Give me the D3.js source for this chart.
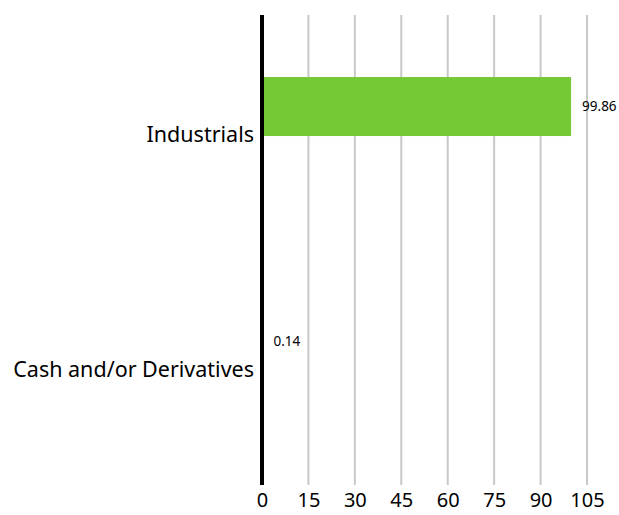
<!DOCTYPE html>
<html>
<head>
<meta charset="utf-8">
<script src="https://cdn.jsdelivr.net/npm/d3@7"></script>
<style>
  body { margin: 0; background: #fff; }
  text { font-family: "Noto Sans", sans-serif; }
</style>
</head>
<body>
<svg id="chart"></svg>
<script>
(function() {
    // data
    var categories = ["Industrials", "Cash and/or Derivatives"];
    var values = [99.86, 0.14];
    var xTicks = [0, 15, 30, 45, 60, 75, 90, 105];

    var W = 619, H = 515;
    var margin = {top: 15, right: 32, bottom: 30, left: 262},
        width = W - margin.left - margin.right,
        height = H - margin.top - margin.bottom;

    var svg = d3.select("#chart")
        .attr("width", W)
        .attr("height", H)
        .append("g")
        .attr("transform", "translate(" + margin.left + "," + margin.top + ")");

    var x = d3.scaleLinear().domain([0, 105]).range([0, width]);
    var y = d3.scaleBand().domain(categories).range([0, height]);

    // gridlines
    svg.selectAll(".grid")
        .data(xTicks.slice(1))
        .enter()
        .append("line")
        .attr("x1", (d) => x(d))
        .attr("x2", (d) => x(d))
        .attr("y1", 0)
        .attr("y2", height)
        .attr("stroke", "#c8c8c8")
        .attr("stroke-width", 2);

    // x tick labels
    var xAxis = svg.append("g")
        .attr("transform", "translate(0," + height + ")")
        .call(d3.axisBottom(x).tickValues(xTicks).tickSize(0).tickPadding(8));
    xAxis.select(".domain").remove();
    xAxis.selectAll("text")
        .style("font-size", "20px")
        .attr("fill", "#000");

    // bars
    var barOffset = y.bandwidth() * 0.264,
        barHeight = y.bandwidth() * 0.251;
    svg.selectAll("rect")
        .data(values)
        .enter()
        .append("rect")
        .attr("x", 0)
        .attr("y", (d, i) => y(categories[i]) + barOffset)
        .attr("width", (d) => x(d))
        .attr("height", barHeight)
        .attr("fill", "#74c935");

    // value labels
    svg.selectAll(".val")
        .data(values)
        .enter()
        .append("text")
        .attr("x", (d) => x(d) + 11)
        .attr("y", (d, i) => y(categories[i]) + barOffset + barHeight / 2)
        .attr("dy", "0.35em")
        .style("font-size", "13.5px")
        .text((d) => d.toFixed(2));

    // category labels
    var yAxis = svg.append("g")
        .call(d3.axisLeft(y).tickSize(0).tickPadding(8));
    yAxis.select(".domain").remove();
    yAxis.selectAll("text")
        .attr("dy", "0.45em")
        .style("font-size", "21.5px")
        .attr("fill", "#000");

    // axis line
    svg.append("line")
        .attr("x1", 0).attr("x2", 0)
        .attr("y1", 0).attr("y2", height)
        .attr("stroke", "#000")
        .attr("stroke-width", 4);
})();
</script>
</body>
</html>
